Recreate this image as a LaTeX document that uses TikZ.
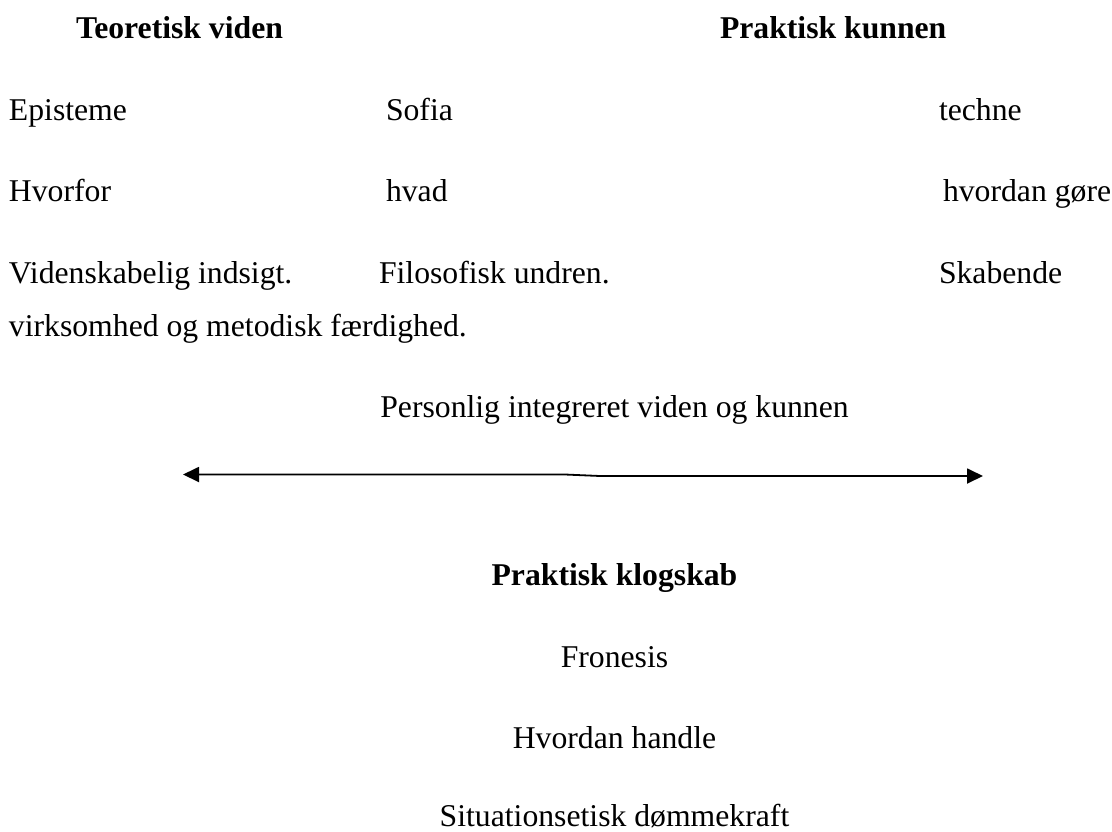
\documentclass[tikz,border=0pt]{standalone}
\usepackage{fontspec}
\setmainfont{Liberation Serif}
\usetikzlibrary{arrows.meta}

\tikzset{
  txt/.style={anchor=base west, inner sep=0pt, outer sep=0pt,
    font=\fontsize{31.7}{38}\selectfont},
  ctxt/.style={txt, anchor=base},
  head/.style={txt, font=\fontsize{31.7}{38}\selectfont\bfseries},
  chead/.style={head, anchor=base},
  twoway/.style={line width=1.8pt, {Triangle[length=16pt,width=15pt]}-{Triangle[length=16pt,width=15pt]}}
}

\begin{document}
\begin{tikzpicture}[x=1pt,y=-1pt]
  \useasboundingbox (0,0) rectangle (1112,831);

  % column headings
  \node[head] (teo) at (76,38) {Teoretisk viden};
  \node[head] (prak) at (720,38) {Praktisk kunnen};

  % three columns
  \node[txt] (epi) at (9,120) {Episteme};
  \node[txt] (sof) at (386,120) {Sofia};
  \node[txt] (tec) at (939,120) {techne};

  \node[txt] (hvf) at (9,201) {Hvorfor};
  \node[txt] (hvd) at (386,201) {hvad};
  \node[txt] (hvg) at (943,201) {hvordan gøre};

  \node[txt] (vid) at (9,283) {Videnskabelig indsigt.};
  \node[txt] (fil) at (379,283) {Filosofisk undren.};
  \node[txt] (ska) at (939,283) {Skabende};
  \node[txt] (vir) at (9,336) {virksomhed og metodisk færdighed.};

  % integrating line
  \node[ctxt] (per) at (614.5,417) {Personlig integreret viden og kunnen};
  \coordinate (aL) at (183,474.5);
  \coordinate (aM1) at (565,474.5);
  \coordinate (aM2) at (600,476);
  \coordinate (aR) at (983,476);
  \draw[twoway] (aL) -- (aM1) -- (aM2) -- (aR);

  % practical wisdom
  \node[chead] (klo) at (614.5,585) {Praktisk klogskab};
  \node[ctxt] (fro) at (614.5,667) {Fronesis};
  \node[ctxt] (hha) at (614.5,748) {Hvordan handle};
  \node[ctxt] (sit) at (614.5,826) {Situationsetisk dømmekraft};
\end{tikzpicture}
\end{document}
